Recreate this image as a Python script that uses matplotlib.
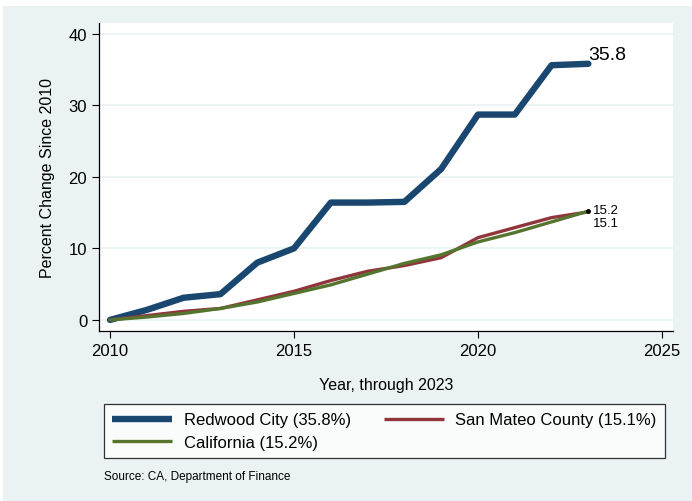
import matplotlib.pyplot as plt
from matplotlib.patches import Rectangle

plt.rcParams['font.family'] = ['Liberation Sans', 'DejaVu Sans']

years = list(range(2010, 2024))
redwood = [0, 1.4, 3.1, 3.6, 8.0, 10.0, 16.4, 16.4, 16.5, 21.1, 28.7, 28.7, 35.6, 35.8]
san_mateo = [0, 0.6, 1.2, 1.6, 2.8, 4.0, 5.5, 6.8, 7.6, 8.7, 11.5, 12.9, 14.3, 15.1]
california = [0, 0.4, 0.9, 1.6, 2.5, 3.7, 4.9, 6.4, 7.9, 9.1, 10.9, 12.2, 13.7, 15.2]

bg = '#eaf2f3'
navy = '#1a476f'
maroon = '#90353b'
green = '#55752f'

fig = plt.figure(figsize=(6.92, 5.02), dpi=100)
fig.patch.set_facecolor('white')
fig.patches.append(Rectangle((3 / 692, 0), 1, 1 - 7 / 502, transform=fig.transFigure,
                             facecolor=bg, edgecolor='none', zorder=-10))

ax = fig.add_axes([99 / 692, 170 / 502, 574 / 692, 308 / 502])
ax.set_facecolor('white')

ax.plot(years, redwood, color=navy, lw=4.6, solid_capstyle='round', label='Redwood City (35.8%)')
ax.plot(years, san_mateo, color=maroon, lw=2.4, solid_capstyle='round', label='San Mateo County (15.1%)')
ax.plot(years, california, color=green, lw=2.4, solid_capstyle='round', label='California (15.2%)')
ax.plot([years[-1]], [california[-1]], 'o', color='black', ms=2.5)

ax.text(years[-1] + 0.0, redwood[-1] + 0.1, f'{redwood[-1]}', fontsize=14, va='bottom', ha='left')
ax.text(years[-1] + 0.12, california[-1] + 0.1, f'{california[-1]}', fontsize=9.5, va='center', ha='left')
ax.text(years[-1] + 0.12, san_mateo[-1] - 1.6, f'{san_mateo[-1]}', fontsize=9.5, va='center', ha='left')

ax.set_xlim(2009.7, 2025.3)
ax.set_ylim(-1.55, 41.5)
ax.set_xticks([2010, 2015, 2020, 2025])
ax.set_yticks([0, 10, 20, 30, 40])
ax.yaxis.grid(True, color=bg, lw=1.2)
ax.set_axisbelow(True)
for s in ['top', 'right']:
    ax.spines[s].set_visible(False)
ax.spines['left'].set_linewidth(0.9)
ax.spines['bottom'].set_linewidth(0.9)
ax.tick_params(labelsize=12, length=5, width=0.8)

ax.set_xlabel('Year, through 2023', fontsize=11.5, labelpad=14)
ax.set_ylabel('Percent Change Since 2010', fontsize=11.5, labelpad=10)

h, l = ax.get_legend_handles_labels()
order = [0, 2, 1]
leg = fig.legend([h[i] for i in order], [l[i] for i in order], ncol=2,
                 loc='upper left', bbox_to_anchor=(104 / 692, 1 - 462 / 502, 561 / 692, 57 / 502),
                 bbox_transform=fig.transFigure,
                 mode='expand', fontsize=12, handlelength=3.6, handletextpad=0.7,
                 frameon=True, fancybox=False,
                 edgecolor='black', borderaxespad=0, columnspacing=2.0,
                 borderpad=0.5, labelspacing=0.45)
leg.get_frame().set_linewidth(0.9)
for line in leg.get_lines():
    line.set_solid_capstyle('butt')

fig.text(104 / 692, 1 - 477 / 502, 'Source: CA, Department of Finance', fontsize=8.5, va='center')

fig.savefig('out.png', dpi=100, facecolor=fig.get_facecolor())
